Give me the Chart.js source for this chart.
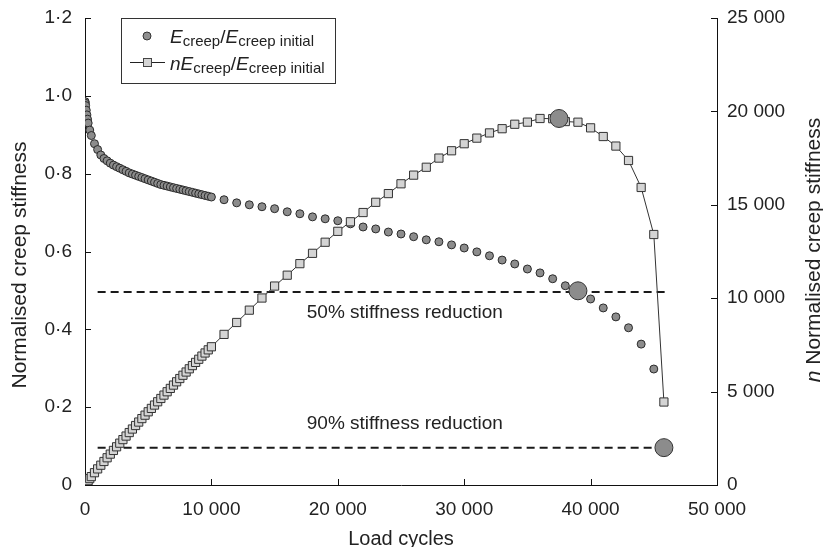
<!DOCTYPE html>
<html>
<head>
<meta charset="utf-8">
<script src="https://cdn.jsdelivr.net/npm/chart.js@4/dist/chart.umd.min.js"></script>
<style>
    html, body { margin: 0; padding: 0; background: #fff; }
    #wrap { width: 823px; height: 547px; position: relative; }
</style>
</head>
<body>
<div id="wrap"><canvas id="creepChart" width="823" height="547"></canvas></div>
<script>
// load cycles at which stiffness was sampled
const loadCycles = [
    10, 25, 50, 100, 150, 200, 250, 375, 500, 750, 1000,
    1250, 1500, 1750, 2000, 2250, 2500, 2750, 3000, 3250, 3500, 3750, 4000,
    4250, 4500, 4750, 5000, 5250, 5500, 5750, 6000, 6250, 6500, 6750, 7000,
    7250, 7500, 7750, 8000, 8250, 8500, 8750, 9000, 9250, 9500, 9750, 10000,
    11000, 12000, 13000, 14000, 15000, 16000, 17000, 18000, 19000, 20000,
    21000, 22000, 23000, 24000, 25000, 26000, 27000, 28000, 29000, 30000,
    31000, 32000, 33000, 34000, 35000, 36000, 37000, 38000, 39000, 40000,
    41000, 42000, 43000, 44000, 45000, 45800
];

// E creep / E creep initial
const stiffnessRatio = [
    0.985, 0.981, 0.975, 0.963, 0.951, 0.940, 0.930, 0.912, 0.898, 0.877, 0.862,
    0.848, 0.839, 0.833, 0.827, 0.822, 0.818, 0.814, 0.810, 0.806, 0.802, 0.799, 0.796,
    0.793, 0.790, 0.787, 0.784, 0.781, 0.778, 0.775, 0.772, 0.770, 0.768, 0.766, 0.764,
    0.762, 0.760, 0.758, 0.756, 0.754, 0.752, 0.750, 0.748, 0.746, 0.744, 0.742, 0.740,
    0.733, 0.725, 0.720, 0.715, 0.710, 0.702, 0.697, 0.689, 0.684, 0.679,
    0.671, 0.663, 0.658, 0.650, 0.645, 0.638, 0.630, 0.625, 0.617, 0.609,
    0.599, 0.589, 0.578, 0.568, 0.555, 0.545, 0.530, 0.512, 0.498, 0.478,
    0.455, 0.432, 0.404, 0.362, 0.298, 0.097
];

// n * E creep / E creep initial
const nStiffness = [
    10, 25, 49, 96, 143, 188, 233, 342, 449, 658, 862,
    1060, 1259, 1458, 1654, 1850, 2045, 2239, 2430, 2620, 2807, 2996, 3184,
    3370, 3555, 3738, 3920, 4100, 4279, 4456, 4632, 4813, 4992, 5171, 5348,
    5525, 5700, 5875, 6048, 6221, 6392, 6563, 6732, 6901, 7068, 7235, 7400,
    8063, 8700, 9360, 10010, 10650, 11232, 11849, 12402, 12996, 13580,
    14091, 14586, 15134, 15600, 16125, 16588, 17010, 17500, 17893, 18270,
    18569, 18848, 19074, 19312, 19425, 19620, 19610, 19456, 19422, 19120,
    18655, 18144, 17372, 15928, 13410, 4443
];

// highlighted points: peak of n-curve, 50% and 90% reduction
const peakCycles = [37500];
const peakValues = [19620];
const reductionCycles = [39000, 45800];
const reductionValues = [0.499, 0.096];

// reference levels
const halfLevel = 0.496;
const tenthLevel = 0.096;
const levelStart = 1000;
const halfLevelEnd = 46000;
const tenthLevelEnd = 45800;

const xTicks = [0, 10000, 20000, 30000, 40000, 50000];
const yTicks = [0, 0.2, 0.4, 0.6, 0.8, 1.0, 1.2];
const y2Ticks = [0, 5000, 10000, 15000, 20000, 25000];

const FONT = '"Liberation Sans", Arial, Helvetica, sans-serif';
const INK = '#222';

function spaced(v) {
    return v.toString().replace(/\B(?=(\d{3})+(?!\d))/g, ' ');
}

function pointsOf(xs, ys) {
    return xs.map((x, i) => ({ x: x, y: ys[i] }));
}

// fixed box sizes so the plot area lands where we want it
function fixBox(size) {
    return s => {
        if (s.isHorizontal()) s.height = size; else s.width = size;
        s.paddingTop = 0;
        s.paddingBottom = 0;
        s.paddingLeft = 0;
        s.paddingRight = 0;
    };
}

// ticks pointing into the plot area
const inwardTicks = {
    id: 'inwardTicks',
    beforeDatasetsDraw(chart) {
        const { ctx, chartArea, scales } = chart;
        const len = 6;
        ctx.save();
        ctx.strokeStyle = '#111';
        ctx.lineWidth = 1;
        ctx.beginPath();
        xTicks.forEach(v => {
            const px = Math.round(scales.x.getPixelForValue(v)) + 0.5;
            ctx.moveTo(px, chartArea.bottom);
            ctx.lineTo(px, chartArea.bottom - len);
        });
        yTicks.forEach(v => {
            const py = Math.round(scales.y.getPixelForValue(v)) + 0.5;
            ctx.moveTo(chartArea.left, py);
            ctx.lineTo(chartArea.left + len, py);
        });
        y2Ticks.forEach(v => {
            const py = Math.round(scales.y2.getPixelForValue(v)) + 0.5;
            ctx.moveTo(chartArea.right, py);
            ctx.lineTo(chartArea.right - len, py);
        });
        ctx.stroke();
        ctx.restore();
    }
};

// draw a row of text pieces with differing fonts / baselines
function drawRuns(ctx, x, y, runs) {
    runs.forEach(r => {
        ctx.font = r.font;
        ctx.fillText(r.text, x, y + (r.dy || 0));
        x += ctx.measureText(r.text).width;
    });
    return x;
}

const big = '19px ' + FONT;
const bigIt = 'italic 19px ' + FONT;
const sub = '15px ' + FONT;

const textDecor = {
    id: 'textDecor',
    afterDraw(chart) {
        const { ctx, chartArea, scales } = chart;
        ctx.save();
        ctx.fillStyle = INK;

        // level labels
        ctx.font = '19px ' + FONT;
        ctx.textAlign = 'center';
        ctx.textBaseline = 'middle';
        const lx = scales.x.getPixelForValue(25300);
        ctx.fillText('50% stiffness reduction', lx, scales.y.getPixelForValue(0.442));
        ctx.fillText('90% stiffness reduction', lx, scales.y.getPixelForValue(0.157));

        // axis titles
        ctx.font = '20px ' + FONT;
        ctx.fillText('Load cycles', (chartArea.left + chartArea.right) / 2, 539);

        ctx.save();
        ctx.translate(20, 265);
        ctx.rotate(-Math.PI / 2);
        ctx.font = '21px ' + FONT;
        ctx.fillText('Normalised creep stiffness', 0, 0);
        ctx.restore();

        ctx.save();
        ctx.translate(814, 250);
        ctx.rotate(-Math.PI / 2);
        ctx.textAlign = 'left';
        const runs = [
            { text: 'n', font: 'italic 21px ' + FONT },
            { text: ' Normalised creep stiffness', font: '21px ' + FONT }
        ];
        let w = 0;
        runs.forEach(r => { ctx.font = r.font; w += ctx.measureText(r.text).width; });
        drawRuns(ctx, -w / 2, 0, runs);
        ctx.restore();

        // legend box
        ctx.strokeStyle = '#333';
        ctx.lineWidth = 1;
        ctx.strokeRect(121.5, 18.5, 214, 65);

        ctx.fillStyle = '#8f8f8f';
        ctx.strokeStyle = '#333';
        ctx.beginPath();
        ctx.arc(147, 36, 4, 0, Math.PI * 2);
        ctx.fill();
        ctx.stroke();

        ctx.strokeStyle = '#222';
        ctx.beginPath();
        ctx.moveTo(130, 62.5);
        ctx.lineTo(165, 62.5);
        ctx.stroke();
        ctx.fillStyle = '#d4d4d4';
        ctx.strokeStyle = '#444';
        ctx.fillRect(143, 58, 8, 8);
        ctx.strokeRect(143.5, 58.5, 8, 8);

        ctx.fillStyle = INK;
        ctx.textAlign = 'left';
        ctx.textBaseline = 'alphabetic';
        drawRuns(ctx, 170, 43, [
            { text: 'E', font: bigIt },
            { text: 'creep', font: sub, dy: 3 },
            { text: '/', font: big },
            { text: 'E', font: bigIt },
            { text: 'creep initial', font: sub, dy: 3 }
        ]);
        drawRuns(ctx, 170, 70, [
            { text: 'nE', font: bigIt },
            { text: 'creep', font: sub, dy: 3 },
            { text: '/', font: big },
            { text: 'E', font: bigIt },
            { text: 'creep initial', font: sub, dy: 3 }
        ]);
        ctx.restore();
    }
};

const tickFont = { family: FONT, size: 19 };

new Chart(document.getElementById('creepChart'), {
    type: 'scatter',
    data: {
        datasets: [
            {
                label: 'half',
                data: [{ x: levelStart, y: halfLevel }, { x: halfLevelEnd, y: halfLevel }],
                showLine: true,
                borderColor: '#1a1a1a',
                borderWidth: 2,
                borderDash: [8, 5],
                pointRadius: 0,
                yAxisID: 'y',
                order: 5
            },
            {
                label: 'tenth',
                data: [{ x: levelStart, y: tenthLevel }, { x: tenthLevelEnd, y: tenthLevel }],
                showLine: true,
                borderColor: '#1a1a1a',
                borderWidth: 2,
                borderDash: [8, 5],
                pointRadius: 0,
                yAxisID: 'y',
                order: 5
            },
            {
                label: 'Ecreep/Ecreep initial',
                data: pointsOf(loadCycles, stiffnessRatio),
                pointStyle: 'circle',
                pointRadius: 4,
                backgroundColor: '#8c8c8c',
                borderColor: '#2a2a2a',
                borderWidth: 1,
                yAxisID: 'y',
                order: 4
            },
            {
                label: 'nEcreep/Ecreep initial',
                data: pointsOf(loadCycles, nStiffness),
                showLine: true,
                pointStyle: 'rect',
                pointRadius: 5.8,
                backgroundColor: '#d4d4d4',
                borderColor: '#333',
                borderWidth: 1,
                yAxisID: 'y2',
                order: 3
            },
            {
                label: 'peak',
                data: pointsOf(peakCycles, peakValues),
                pointRadius: 9,
                backgroundColor: '#8c8c8c',
                borderColor: '#333',
                borderWidth: 1,
                yAxisID: 'y2',
                order: 1
            },
            {
                label: 'reduction',
                data: pointsOf(reductionCycles, reductionValues),
                pointRadius: 9,
                backgroundColor: '#8c8c8c',
                borderColor: '#333',
                borderWidth: 1,
                yAxisID: 'y',
                order: 1
            }
        ]
    },
    options: {
        responsive: false,
        animation: false,
        layout: { padding: { top: 18, left: 0, right: 0, bottom: 0 } },
        elements: { line: { borderWidth: 1, borderColor: '#111', tension: 0 } },
        plugins: {
            legend: { display: false },
            tooltip: { enabled: false }
        },
        scales: {
            x: {
                type: 'linear',
                min: 0,
                max: 50000,
                afterFit: fixBox(62),
                afterBuildTicks: s => { s.ticks = xTicks.map(v => ({ value: v })); },
                grid: { display: true, drawOnChartArea: false, drawTicks: false },
                border: { display: true, color: '#111', width: 1 },
                ticks: {
                    font: tickFont,
                    color: INK,
                    padding: 13,
                    maxRotation: 0,
                    autoSkip: false,
                    callback: v => spaced(v)
                }
            },
            y: {
                type: 'linear',
                position: 'left',
                min: 0,
                max: 1.2,
                afterFit: fixBox(85),
                afterBuildTicks: s => { s.ticks = yTicks.map(v => ({ value: v })); },
                grid: { display: true, drawOnChartArea: false, drawTicks: false },
                border: { display: true, color: '#111', width: 1 },
                ticks: {
                    font: tickFont,
                    color: INK,
                    padding: 13,
                    autoSkip: false,
                    callback: v => v === 0 ? '0' : v.toFixed(1).replace('.', '·')
                }
            },
            y2: {
                type: 'linear',
                position: 'right',
                min: 0,
                max: 25000,
                afterFit: fixBox(106),
                afterBuildTicks: s => { s.ticks = y2Ticks.map(v => ({ value: v })); },
                grid: { display: true, drawOnChartArea: false, drawTicks: false },
                border: { display: true, color: '#111', width: 1 },
                ticks: {
                    font: tickFont,
                    color: INK,
                    padding: 10,
                    autoSkip: false,
                    callback: v => spaced(v)
                }
            }
        }
    },
    plugins: [inwardTicks, textDecor]
});
</script>
</body>
</html>
